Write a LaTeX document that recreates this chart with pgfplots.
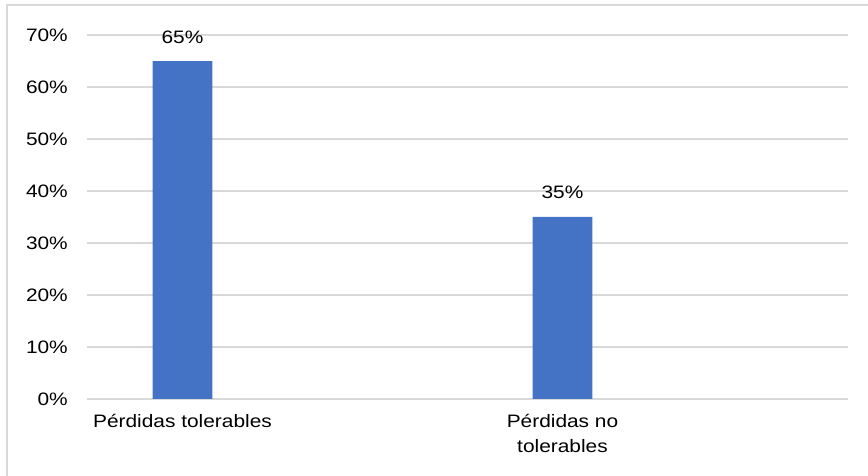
\documentclass[border=0pt]{standalone}
\usepackage{fontspec}
\setmainfont{Liberation Sans}[FakeStretch=1.16]
\usepackage{pgfplots}
\pgfplotsset{compat=1.18}
\definecolor{barblue}{HTML}{4472C4}
\definecolor{gridgray}{HTML}{D9D9D9}
\begin{document}
\fontsize{18pt}{25pt}\selectfont
\begin{tikzpicture}
\useasboundingbox (0,0) rectangle (868pt,476pt);
% chart area border
\draw[gridgray, line width=1.2pt] (7pt,0pt) -- (7pt,471pt) -- (868pt,471pt);
\begin{axis}[
  at={(87pt,77pt)}, anchor=south west,
  scale only axis, width=761pt, height=364pt,
  ybar, bar width=0.1568,
  xmin=-0.2513, xmax=1.7513, ymin=0, ymax=70,
  axis line style={draw=none},
  tick style={draw=none},
  major tick length=0pt,
  ymajorgrids, grid style={gridgray, line width=1.5pt},
  /pgf/number format/assume math mode=true,
  xtick={0,1},
  xticklabels={P\'erdidas tolerables,{P\'erdidas no\\tolerables}},
  xticklabel style={align=center, anchor=north, inner sep=0pt, yshift=-15pt,
    font=\fontsize{18pt}{25pt}\selectfont},
  ytick={0,10,...,70},
  yticklabel={\pgfmathprintnumber{\tick}\%},
  yticklabel style={anchor=east, inner sep=0pt, xshift=-19pt,
    font=\fontsize{18pt}{25pt}\selectfont},
  nodes near coords={\pgfmathprintnumber{\pgfplotspointmeta}\%},
  nodes near coords style={anchor=base, inner sep=0pt, yshift=18pt,
    font=\fontsize{18pt}{25pt}\selectfont, text=black},
]
\addplot[fill=barblue, draw=none] coordinates {(0,65) (1,35)};
\end{axis}
\end{tikzpicture}
\end{document}
